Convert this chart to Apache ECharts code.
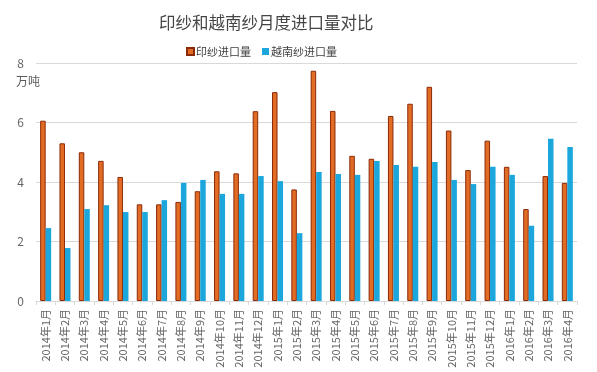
<!DOCTYPE html>
<html>
<head>
<meta charset="utf-8">
<script src="https://cdn.jsdelivr.net/npm/echarts@6/dist/echarts.min.js"></script>
<style>html,body{margin:0;padding:0;background:#fff;}#c{width:597px;height:372px;}</style>
</head>
<body>
<div id="c"></div>
<script>
const categories = ['2014年1月','2014年2月','2014年3月','2014年4月','2014年5月','2014年6月','2014年7月','2014年8月','2014年9月','2014年10月','2014年11月','2014年12月',
  '2015年1月','2015年2月','2015年3月','2015年4月','2015年5月','2015年6月','2015年7月','2015年8月','2015年9月','2015年10月','2015年11月','2015年12月',
  '2016年1月','2016年2月','2016年3月','2016年4月'];
const indiaYarn = [6.06,5.30,5.00,4.71,4.17,3.25,3.25,3.33,3.69,4.36,4.29,6.38,7.02,3.75,7.74,6.39,4.88,4.78,6.22,6.63,7.20,5.73,4.40,5.39,4.51,3.09,4.20,3.97];
const vietnamYarn = [2.45,1.78,3.09,3.22,2.99,2.99,3.39,3.97,4.07,3.60,3.60,4.20,4.03,2.28,4.34,4.27,4.24,4.71,4.57,4.51,4.67,4.07,3.93,4.51,4.24,2.53,5.45,5.18];
const seriesNames = ['印纱进口量','越南纱进口量'];
const titleText = '印纱和越南纱月度进口量对比';
const yUnit = '万吨';

const font = '"Microsoft YaHei","Noto Sans CJK SC",sans-serif';
const chart = echarts.init(document.getElementById('c'));
chart.setOption({
  animation: false,
  backgroundColor: '#fff',
  title: {
    text: titleText, left: 154, top: 9,
    textStyle: {fontFamily: font, fontSize: 16.5, fontWeight: 'normal', color: '#454545'}
  },
  legend: {
    top: 41, left: 181, itemWidth: 7, itemHeight: 7, itemGap: 11,
    icon: 'rect',
    textStyle: {fontFamily: font, fontSize: 11, color: '#404040', padding: [0,0,0,-3]},
    data: seriesNames
  },
  grid: {left: 36, right: 20, top: 63, bottom: 71, containLabel: false},
  xAxis: {
    type: 'category', data: categories,
    axisLine: {lineStyle: {color: '#d9d9d9'}},
    axisTick: {show: true, length: 4, lineStyle: {color: '#d9d9d9'}},
    axisLabel: {rotate: 90, interval: 0, fontFamily: font, fontSize: 11, color: '#666', margin: 8}
  },
  yAxis: {
    type: 'value', min: 0, max: 8, interval: 2,
    name: yUnit, nameLocation: 'end', nameGap: -24,
    nameTextStyle: {fontFamily: font, fontSize: 12, color: '#595959', align: 'right', padding: [0, -4, 0, 0]},
    axisLine: {show: false}, axisTick: {show: false},
    splitLine: {lineStyle: {color: '#d9d9d9'}},
    axisLabel: {fontFamily: font, fontSize: 12, color: '#666', margin: 12}
  },
  series: [
    {name: seriesNames[0], type: 'bar', data: indiaYarn, barWidth: 5.5, barGap: '0%',
     itemStyle: {color: '#e36c25', borderColor: '#8a2a08', borderWidth: 1}},
    {name: seriesNames[1], type: 'bar', data: vietnamYarn, barWidth: 5.5, barGap: '0%',
     itemStyle: {color: '#1ba6dc'}}
  ]
});
</script>
</body>
</html>
